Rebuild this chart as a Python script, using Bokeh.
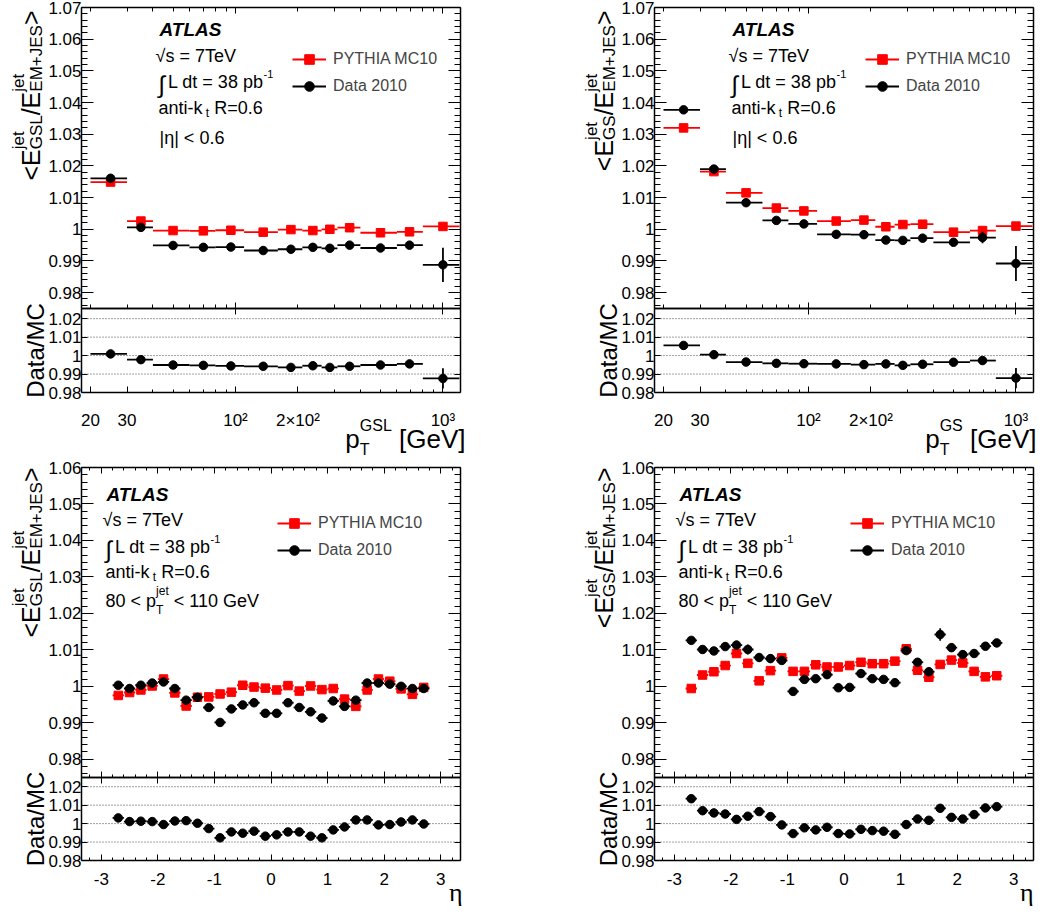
from math import pi, log10
from bokeh.plotting import figure
from bokeh.models import (Range1d, LinearAxis, LogAxis, FixedTicker, Label, Legend, LegendItem,
                          CustomJSTickFormatter, ColumnDataSource)
from bokeh.layouts import column, row
from bokeh.embed import file_html
from bokeh.resources import INLINE

FONT = "Liberation Sans"

# ------------------------------------------------------------------ data
PT_EDGES = [20, 30, 40, 60, 80, 110, 160, 210, 260, 310, 400, 600, 800, 1200]
PT_MEAN = [25, 35, 50, 70, 95, 136, 185, 236, 285, 355, 500, 690, 1000]
PT_TICKS = [20, 30, 100, 200, 1000]
PT_TICK_LABELS = ["20", "30", "10²", "2×10²", "10³"]

GSL_PT_MC = [1.0149, 1.0026, 0.9996, 0.9995, 0.9997, 0.9991, 0.9999, 0.9996, 1.0000, 1.0005, 0.9989, 0.9992, 1.0009]
GSL_PT_DATA = [1.0161, 1.0006, 0.9949, 0.9943, 0.9944, 0.9933, 0.9937, 0.9943, 0.9940, 0.9950, 0.9941, 0.9950, 0.9888]
GSL_PT_DATA_ERR = [0.0003, 0.0002, 0.0002, 0.0002, 0.0002, 0.0002, 0.0003, 0.0003, 0.0004, 0.0005, 0.0006, 0.0012, 0.0054]
GSL_PT_RATIO = [1.0009, 0.9978, 0.9949, 0.9947, 0.9944, 0.9942, 0.9936, 0.9945, 0.9936, 0.9942, 0.9949, 0.9955, 0.9876]
GSL_PT_RATIO_ERR = [0.0003, 0.0002, 0.0002, 0.0002, 0.0002, 0.0002, 0.0003, 0.0003, 0.0004, 0.0005, 0.0006, 0.0012, 0.0055]

GS_PT_MC = [1.0320, 1.0182, 1.0115, 1.0067, 1.0058, 1.0026, 1.0029, 1.0008, 1.0015, 1.0016, 0.9991, 0.9996, 1.0010]
GS_PT_DATA = [1.0377, 1.0190, 1.0084, 1.0028, 1.0017, 0.9984, 0.9983, 0.9966, 0.9965, 0.9972, 0.9959, 0.9974, 0.9892]
GS_PT_DATA_ERR = [0.0003, 0.0002, 0.0002, 0.0002, 0.0002, 0.0002, 0.0003, 0.0003, 0.0004, 0.0005, 0.0006, 0.0018, 0.0055]
GS_PT_RATIO = [1.0055, 1.0005, 0.9965, 0.9958, 0.9956, 0.9955, 0.9951, 0.9955, 0.9947, 0.9953, 0.9964, 0.9973, 0.9878]
GS_PT_RATIO_ERR = [0.0003, 0.0002, 0.0002, 0.0002, 0.0002, 0.0002, 0.0003, 0.0003, 0.0004, 0.0005, 0.0006, 0.0015, 0.0055]

ETA = [-2.7, -2.5, -2.3, -2.1, -1.9, -1.7, -1.5, -1.3, -1.1, -0.9, -0.7, -0.5, -0.3, -0.1,
       0.1, 0.3, 0.5, 0.7, 0.9, 1.1, 1.3, 1.5, 1.7, 1.9, 2.1, 2.3, 2.5, 2.7]
ETA_HALF_WIDTH = [0.1] * 28
ETA_TICKS = [-3, -2, -1, 0, 1, 2, 3]
ETA_TICK_LABELS = ["-3", "-2", "-1", "0", "1", "2", "3"]

GSL_ETA_MC = [0.9975, 0.9983, 0.9990, 1.0001, 1.0020, 0.9982, 0.9946, 0.9970, 0.9971, 0.9979, 0.9984, 1.0003, 0.9998, 0.9995,
              0.9990, 1.0002, 0.9987, 1.0001, 0.9991, 0.9994, 0.9965, 0.9945, 0.9990, 1.0020, 1.0014, 0.9993, 0.9978, 0.9997]
GSL_ETA_DATA = [1.0003, 0.9994, 1.0003, 1.0009, 1.0012, 0.9994, 0.9962, 0.9970, 0.9942, 0.9901, 0.9938, 0.9949, 0.9955, 0.9926,
                0.9926, 0.9955, 0.9942, 0.9930, 0.9913, 0.9960, 0.9945, 0.9962, 1.0009, 1.0009, 1.0006, 1.0000, 0.9994, 0.9994]
GSL_ETA_DATA_ERR = [0.0005, 0.0005, 0.0005, 0.0005, 0.0006, 0.0006, 0.0006, 0.0005, 0.0005, 0.0005, 0.0004, 0.0004, 0.0004, 0.0004,
                    0.0004, 0.0004, 0.0004, 0.0004, 0.0005, 0.0005, 0.0006, 0.0006, 0.0006, 0.0006, 0.0005, 0.0005, 0.0005, 0.0005]
GSL_ETA_RATIO = [1.0031, 1.0011, 1.0013, 1.0011, 0.9995, 1.0014, 1.0016, 1.0002, 0.9973, 0.9923, 0.9955, 0.9948, 0.9959, 0.9932,
                 0.9939, 0.9955, 0.9955, 0.9932, 0.9923, 0.9966, 0.9982, 1.0020, 1.0020, 0.9993, 0.9995, 1.0009, 1.0020, 0.9998]
GSL_ETA_RATIO_ERR = [0.0006] * 28

GS_ETA_MC = [0.9994, 1.0031, 1.0040, 1.0057, 1.0090, 1.0063, 1.0015, 1.0043, 1.0078, 1.0041, 1.0041, 1.0059, 1.0053, 1.0053,
             1.0057, 1.0066, 1.0062, 1.0062, 1.0069, 1.0103, 1.0044, 1.0025, 1.0060, 1.0072, 1.0064, 1.0041, 1.0026, 1.0029]
GS_ETA_DATA = [1.0126, 1.0101, 1.0097, 1.0109, 1.0113, 1.0101, 1.0079, 1.0076, 1.0071, 0.9986, 1.0019, 1.0021, 1.0032, 0.9996,
               0.9997, 1.0035, 1.0021, 1.0019, 1.0010, 1.0098, 1.0066, 1.0040, 1.0142, 1.0106, 1.0087, 1.0090, 1.0110, 1.0119]
GS_ETA_DATA_ERR = [0.0006, 0.0005, 0.0005, 0.0006, 0.0012, 0.0014, 0.0012, 0.0012, 0.0007, 0.0005, 0.0005, 0.0005, 0.0005, 0.0004,
                   0.0004, 0.0005, 0.0005, 0.0005, 0.0005, 0.0007, 0.0010, 0.0012, 0.0017, 0.0012, 0.0007, 0.0006, 0.0005, 0.0005]
GS_ETA_RATIO = [1.0135, 1.0070, 1.0058, 1.0052, 1.0023, 1.0040, 1.0065, 1.0038, 0.9993, 0.9946, 0.9977, 0.9966, 0.9980, 0.9946,
                0.9944, 0.9969, 0.9962, 0.9959, 0.9942, 0.9995, 1.0025, 1.0018, 1.0083, 1.0034, 1.0025, 1.0049, 1.0085, 1.0092]
GS_ETA_RATIO_ERR = [0.0006] * 28

MAIN_TICKS_TOP = [0.98, 0.99, 1.0, 1.01, 1.02, 1.03, 1.04, 1.05, 1.06, 1.07]
MAIN_LABELS_TOP = ["0.98", "0.99", "1", "1.01", "1.02", "1.03", "1.04", "1.05", "1.06", "1.07"]
MAIN_TICKS_BOT = [0.98, 0.99, 1.0, 1.01, 1.02, 1.03, 1.04, 1.05, 1.06]
MAIN_LABELS_BOT = ["0.98", "0.99", "1", "1.01", "1.02", "1.03", "1.04", "1.05", "1.06"]
RATIO_TICKS = [0.98, 0.99, 1.0, 1.01, 1.02]
RATIO_LABELS = ["0.98", "0.99", "1", "1.01", "1.02"]
RATIO_GRID = [0.99, 1.0, 1.01, 1.02]

LEGEND_LABELS = ["PYTHIA MC10", "Data 2010"]

# ------------------------------------------------------------------ text helpers
AW = {' ': 278, '+': 584, '-': 333, '.': 278, '/': 278, '<': 584, '=': 584, '>': 584, '[': 278, ']': 278, '|': 260,
      'A': 667, 'B': 667, 'C': 722, 'D': 722, 'E': 667, 'F': 611, 'G': 778, 'H': 722, 'I': 278, 'J': 500, 'K': 667,
      'L': 556, 'M': 833, 'N': 722, 'O': 778, 'P': 667, 'R': 722, 'S': 667, 'T': 611, 'U': 722, 'V': 667, 'Y': 667,
      'a': 556, 'b': 556, 'c': 500, 'd': 556, 'e': 556, 'f': 278, 'g': 556, 'h': 556, 'i': 222, 'j': 222, 'k': 500,
      'l': 222, 'm': 833, 'n': 556, 'o': 556, 'p': 556, 'r': 333, 's': 500, 't': 278, 'u': 556, 'v': 500,
      'η': 556, '√': 549, '∫': 274, '×': 584}


def tw(s, size):
    return sum(AW.get(c, 556) for c in s) * size / 1000.0


def rich(p, x0, y0, items, align="left", vertical=False, style="normal", font=FONT):
    """items: (text, size, baseline_shift_up, advance); screen coords from canvas bottom-left"""
    total = sum(tw(t, s) if a is True else (a or 0) for t, s, d, a in items)
    pos = {"left": 0.0, "center": -total / 2.0, "right": -total}[align]
    for t, s, d, a in items:
        lead = len(t) - len(t.lstrip(' '))
        txt = t.lstrip(' ')
        off = pos + lead * 278 * s / 1000.0
        if vertical:
            x, y, ang = x0 - d, y0 + off, pi / 2
        else:
            x, y, ang = x0 + off, y0 + d, 0.0
        if txt:
            p.add_layout(Label(x=x, y=y, x_units="screen", y_units="screen", text=txt, angle=ang,
                               text_font=font, text_font_size=f"{s}px", text_font_style=style,
                               text_align="left", text_baseline="alphabetic", text_color="black"))
        pos += tw(t, s) if a is True else (a or 0)


JS_FMT = """
let best = -1, bd = Infinity;
for (let k = 0; k < tv.length; k++) { const d = Math.abs(tv[k] - tick); if (d < bd) { bd = d; best = k; } }
return (best >= 0 && bd <= 1e-6 * Math.max(1, Math.abs(tick))) ? tl[best] : "";
"""


def add_axis(p, side, log, ticks, minor, maj, mnr, loc, bounds, yname="default", labels=None, standoff=4):
    cls = LogAxis if log else LinearAxis
    ax = cls(ticker=FixedTicker(ticks=list(ticks), minor_ticks=list(minor)),
             fixed_location=loc, bounds=bounds, y_range_name=yname,
             major_tick_in=maj, major_tick_out=0, minor_tick_in=mnr, minor_tick_out=0,
             axis_line_width=1.5, axis_line_color="black",
             major_tick_line_width=1, minor_tick_line_width=1)
    if labels is None:
        ax.major_label_text_color = None
    else:
        ax.formatter = CustomJSTickFormatter(args=dict(tv=list(ticks), tl=list(labels)), code=JS_FMT)
        ax.major_label_text_font = FONT
        ax.major_label_text_font_size = "17px"
        ax.major_label_standoff = standoff
        ax.major_label_text_color = "black"
    p.add_layout(ax, side)


def draw_points(p, x, lo, hi, y, err, color, marker, yname="default"):
    src = ColumnDataSource(dict(x=x, lo=lo, hi=hi, y=y,
                                ylo=[a - b for a, b in zip(y, err)] if err else y,
                                yhi=[a + b for a, b in zip(y, err)] if err else y))
    rh = p.segment(x0="lo", x1="hi", y0="y", y1="y", source=src, line_color=color, line_width=1.8,
                   y_range_name=yname)
    if err:
        p.segment(x0="x", x1="x", y0="ylo", y1="yhi", source=src, line_color=color, line_width=1.8,
                  y_range_name=yname)
    rs = p.scatter("x", "y", source=src, marker=marker, size=8.5, fill_color=color, line_color=color,
                   y_range_name=yname)
    return rh, rs


# ------------------------------------------------------------------ geometry (canvas pixels)
PT_RANGE = (18.1, 1215.0)
ETA_RANGE = (-3.35, 3.35)
COLS = {"left": dict(W=567, L=81, R=460, xt=5), "right": dict(W=470, L=87, R=466, xt=3)}
ROWS = {"top": dict(H=459, mt=7, mb=308, rb=392, ym=(0.975, 1.07), yr=(0.98, 1.0255)),
        "bottom": dict(H=447, mt=8, mb=318, rb=401, ym=(0.975, 1.06), yr=(0.98, 1.025))}

log_minor = [m * 10 for m in range(2, 10)] + [m * 100 for m in range(1, 10)] + [1000]
eta_minor = [round(-3.2 + 0.2 * i, 1) for i in range(33)]
minor_top = [round(0.976 + 0.002 * i, 3) for i in range(48)]
minor_bot = [round(0.976 + 0.002 * i, 3) for i in range(43)]


def ytitle_items(sub):
    return [("<E", 25, 0, True), ("jet", 17, 12, False), (sub, 17, -6, True),
            ("/E", 25, 0, True), ("jet", 17, 12, False), ("EM+JES", 17, -6, True), (">", 25, 0, True)]


def quadrant(is_pt, col, rw, sub, mc, dat, dat_err, rat, rat_err, line5):
    W, L, R, xt = COLS[col]["W"], COLS[col]["L"], COLS[col]["R"], COLS[col]["xt"]
    g = ROWS[rw]
    H, mt, mb, rb = g["H"], g["mt"], g["mb"], g["rb"]
    (y0m, y1m), (y0r, y1r) = g["ym"], g["yr"]

    if is_pt:
        xa, xb = PT_RANGE
        a, b = log10(xa), log10(xb)
        s = (b - a) / (R - L)
        xr = Range1d(10 ** (a - L * s), 10 ** (b + (W - R) * s))
    else:
        xa, xb = ETA_RANGE
        s = (xb - xa) / (R - L)
        xr = Range1d(xa - L * s, xb + (W - R) * s)
    s = (y1m - y0m) / (mb - mt)
    yr_main = Range1d(y0m - (H - mb) * s, y1m + mt * s)
    s = (y1r - y0r) / (rb - mb)
    yr_rat = Range1d(y0r - (H - rb) * s, y1r + mb * s)

    p = figure(width=W, height=H, x_axis_type="log" if is_pt else "linear",
               x_axis_location=None, y_axis_location=None, x_range=xr, y_range=yr_main,
               toolbar_location=None, output_backend="svg",
               min_border_left=0, min_border_right=0, min_border_top=0, min_border_bottom=0)
    p.extra_y_ranges = {"ratio": yr_rat}
    p.xgrid.visible = False
    p.ygrid.visible = False
    p.outline_line_color = None
    p.background_fill_color = "white"
    p.border_fill_color = "white"

    if is_pt:
        x = PT_MEAN
        lo, hi = PT_EDGES[:-1], PT_EDGES[1:]
        xmaj, xminor, xlab_ticks, xlab = [100, 1000], log_minor, PT_TICKS, PT_TICK_LABELS
        mnr_x = 4
    else:
        x = ETA
        lo = [c - h for c, h in zip(ETA, ETA_HALF_WIDTH)]
        hi = [c + h for c, h in zip(ETA, ETA_HALF_WIDTH)]
        xmaj, xminor, xlab_ticks, xlab = ETA_TICKS, eta_minor, ETA_TICKS, ETA_TICK_LABELS
        mnr_x = 3
    if rw == "top":
        mt_ticks, mt_labels, mminor = MAIN_TICKS_TOP, MAIN_LABELS_TOP, minor_top
    else:
        mt_ticks, mt_labels, mminor = MAIN_TICKS_BOT, MAIN_LABELS_BOT, minor_bot

    # ratio dotted reference lines
    gsrc = ColumnDataSource(dict(y=RATIO_GRID, x0=[xa] * len(RATIO_GRID), x1=[xb] * len(RATIO_GRID)))
    p.segment(x0="x0", x1="x1", y0="y", y1="y", source=gsrc, y_range_name="ratio",
              line_color="black", line_alpha=0.75, line_width=1, line_dash="1 2")

    # main box axes
    add_axis(p, "left", False, mt_ticks, mminor, 12, 6, xa, (y0m, y1m), labels=mt_labels, standoff=0)
    add_axis(p, "right", False, mt_ticks, mminor, 12, 6, xb, (y0m, y1m))
    add_axis(p, "below", is_pt, xmaj, xminor, 6, mnr_x, y0m, (xa, xb))
    add_axis(p, "above", is_pt, xmaj, xminor, 6, mnr_x, y1m, (xa, xb))
    # ratio box axes
    add_axis(p, "left", False, RATIO_TICKS, [], 6, 0, xa, (y0r, y1r), yname="ratio", labels=RATIO_LABELS, standoff=0)
    add_axis(p, "right", False, RATIO_TICKS, [], 6, 0, xb, (y0r, y1r), yname="ratio")
    add_axis(p, "below", is_pt, xlab_ticks, xminor, 6, 3, y0r, (xa, xb), yname="ratio", labels=xlab,
             standoff=18 if is_pt else 12)
    add_axis(p, "above", is_pt, xmaj, [], 6, 0, y1r, (xa, xb), yname="ratio")

    mc_h, mc_s = draw_points(p, x, lo, hi, mc, None, "red", "square")
    d_h, d_s = draw_points(p, x, lo, hi, dat, dat_err, "black", "circle")
    draw_points(p, x, lo, hi, rat, rat_err, "black", "circle", yname="ratio")

    if rw == "top":
        dyt = -5
        tx = [78, 74, 77, 77, 78]
        ty = [27, 53, 79, 105, 135]
        lgx, lgy = 211, 48
        title_end = 3
    else:
        dyt = 0
        tx = [25, 21, 24, 24, 24]
        ty = [27, 52, 79, 104, 133]
        lgx, lgy = 196, 47
        title_end = 0

    leg = Legend(items=[LegendItem(label=LEGEND_LABELS[0], renderers=[mc_h, mc_s]),
                        LegendItem(label=LEGEND_LABELS[1], renderers=[d_h, d_s])],
                 location=(L + lgx, H - (mt + lgy + dyt - 12) - 51 - 9), orientation="vertical",
                 glyph_width=34, glyph_height=24, label_height=24, spacing=3, padding=0, margin=0,
                 label_standoff=7, label_text_font=FONT, label_text_font_size="16px",
                 border_line_color=None, background_fill_alpha=0)
    p.add_layout(leg)

    def Y(yd):
        return H - yd

    rich(p, L + tx[0], Y(mt + ty[0] + dyt), [("ATLAS", 19, 0, True)], style="bold italic")
    rich(p, L + tx[1], Y(mt + ty[1] + dyt), [("√s = 7TeV", 18, 0, True)])
    rich(p, L + tx[2], Y(mt + ty[2] + dyt), [("∫", 24, -3, 9.5), ("L dt = 38 pb", 18, 0, True), ("-1", 11, 8, True)])
    rich(p, L + tx[3], Y(mt + ty[3] + dyt), [("anti-k", 18, 0, True), (" t", 12, -5, True), (" R=0.6", 18, 0, True)])
    rich(p, L + tx[4], Y(mt + ty[4] + dyt), line5)

    rich(p, L - 51, Y(mt + title_end), ytitle_items(sub), align="right", vertical=True)
    rich(p, L - 46, Y((mb + rb) / 2.0), [("Data/MC", 24, 0, True)], align="center", vertical=True)
    if is_pt:
        rich(p, R + xt, Y(rb + 46), [("p", 26, 0, True), ("T", 16, -11, False), (sub, 16, 13, True),
                                     (" [GeV]", 26, 0, True)], align="right")
    else:
        rich(p, R + xt - 2, Y(rb + 32), [("η", 26, 0, True)], align="right", font="Liberation Serif")
    return p


line_eta = [("|η| < 0.6", 18, 0, True)]
line_pt = [("80 < p", 18, 0, True), ("T", 12, -9, False), ("jet", 12, 10, True), (" < 110 GeV", 18, 0, True)]

q1 = quadrant(True, "left", "top", "GSL", GSL_PT_MC, GSL_PT_DATA, GSL_PT_DATA_ERR, GSL_PT_RATIO, GSL_PT_RATIO_ERR, line_eta)
q2 = quadrant(True, "right", "top", "GS", GS_PT_MC, GS_PT_DATA, GS_PT_DATA_ERR, GS_PT_RATIO, GS_PT_RATIO_ERR, line_eta)
q3 = quadrant(False, "left", "bottom", "GSL", GSL_ETA_MC, GSL_ETA_DATA, GSL_ETA_DATA_ERR, GSL_ETA_RATIO, GSL_ETA_RATIO_ERR, line_pt)
q4 = quadrant(False, "right", "bottom", "GS", GS_ETA_MC, GS_ETA_DATA, GS_ETA_DATA_ERR, GS_ETA_RATIO, GS_ETA_RATIO_ERR, line_pt)

layout = column(row(q1, q2), row(q3, q4))
open("out.html", "w").write(file_html(layout, INLINE))
